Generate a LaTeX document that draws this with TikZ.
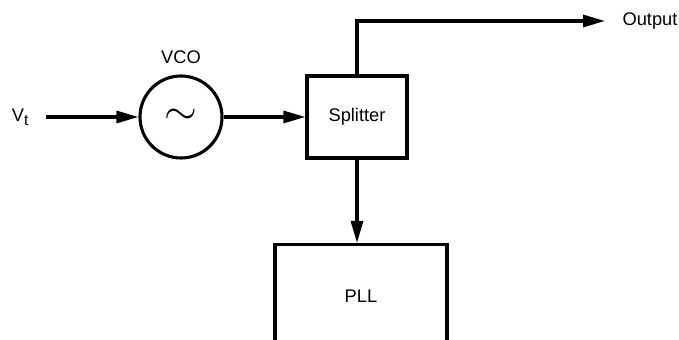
\documentclass[tikz,border=0pt]{standalone}
\usepackage{fontspec}
\setmainfont{Liberation Sans}
\usetikzlibrary{positioning, arrows.meta, calc}
\definecolor{lineblack}{HTML}{000000}

\begin{document}
\begin{tikzpicture}[font=\fontsize{13}{15}\selectfont, line width=2.2pt, draw=lineblack,
    sig/.style={-{Triangle[length=5.5mm, width=3mm]}},
    blk/.style={draw, rectangle, inner sep=0pt}]
        \useasboundingbox (0,0) rectangle (16.975,8.5);
        \clip (0,0) rectangle (16.975,8.5);
        \node[draw, circle, minimum size=2.05cm, inner sep=0pt] (vco) at (4.525,5.575) {\scalebox{2.5}{$\sim$}};
        \node[above=0.225cm of vco, inner sep=0pt] (vcolabel) {VCO};
        \node[anchor=east, inner xsep=0.4cm, inner ysep=0pt] (vt) at (1.15,5.575) {V\raisebox{-0.45ex}{\fontsize{11}{11}\selectfont t}};
        \node[blk, minimum width=2.5cm, minimum height=2.05cm] (split) at (8.925,5.575) {Splitter};
        \node[blk, minimum width=4.3cm, minimum height=2.6cm, anchor=north] (pll) at (9.025,2.425) {PLL};
        \node[anchor=west, inner xsep=0.4cm, inner ysep=0pt] (out) at (15.125,7.975) {Output};
        \draw[sig] (vt) -- (vco);
        \draw[sig] (vco) -- (split);
        \draw[sig] (split.north) |- (out.west);
        \draw[sig] (split.south) -- (split.south |- pll.north);
      \end{tikzpicture}
\end{document}
